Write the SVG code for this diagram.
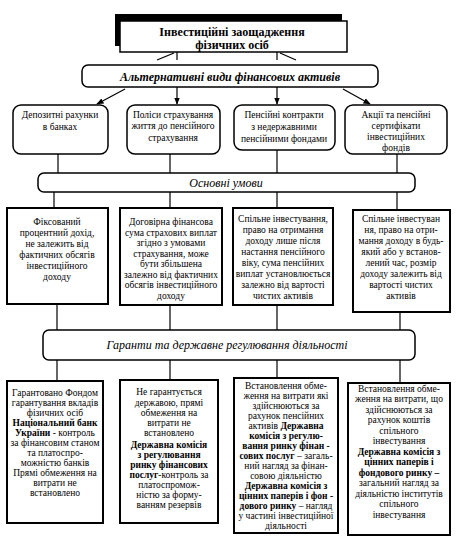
<svg xmlns="http://www.w3.org/2000/svg" width="465" height="545" viewBox="0 0 465 545">
<style>
.t{font-family:"Liberation Serif","DejaVu Serif",serif;font-size:9.5px;fill:#000;text-anchor:middle}
.b{font-weight:bold}
.hdr{font-family:"Liberation Serif","DejaVu Serif",serif;font-size:12px;font-weight:bold;text-anchor:middle}
.bar{font-family:"Liberation Serif","DejaVu Serif",serif;font-size:12px;font-style:italic;text-anchor:middle}
.box{fill:#fff;stroke:#000;stroke-width:1.5}
.box2{fill:#fff;stroke:#000;stroke-width:2}
.ln{stroke:#000;stroke-width:1.2;fill:none}
</style>
<defs>
<marker id="ar" viewBox="0 0 10 10" refX="9" refY="5" markerWidth="6" markerHeight="6" orient="auto">
<path d="M0,1 L10,5 L0,9 Z" fill="#000"/>
</marker>
</defs>
<rect width="465" height="545" fill="#fff"/>
<g id="connectors">
<line class="ln" x1="177" y1="52" x2="177" y2="60"/>
<line class="ln" x1="157" y1="60" x2="174" y2="53"/>
<line class="ln" x1="277" y1="52" x2="277" y2="60"/>
<line class="ln" x1="280" y1="53" x2="296" y2="60"/>
<line class="ln" x1="125" y1="89" x2="97" y2="104" marker-end="url(#ar)"/>
<line class="ln" x1="177" y1="87" x2="177" y2="104" marker-end="url(#ar)"/>
<line class="ln" x1="277" y1="87" x2="277" y2="104" marker-end="url(#ar)"/>
<line class="ln" x1="343" y1="89" x2="370" y2="104" marker-end="url(#ar)"/>
<line class="ln" x1="58" y1="154" x2="58" y2="173"/>
<line class="ln" x1="170" y1="154" x2="170" y2="173"/>
<line class="ln" x1="277" y1="150" x2="277" y2="173"/>
<line class="ln" x1="397" y1="154" x2="397" y2="173"/>
<line class="ln" x1="54" y1="192" x2="54" y2="208"/>
<line class="ln" x1="170" y1="192" x2="170" y2="208"/>
<line class="ln" x1="277" y1="192" x2="277" y2="208"/>
<line class="ln" x1="397" y1="192" x2="397" y2="210"/>
<line class="ln" x1="57" y1="304" x2="57" y2="330"/>
<line class="ln" x1="170" y1="305" x2="170" y2="330"/>
<line class="ln" x1="277" y1="305" x2="277" y2="330"/>
<line class="ln" x1="400" y1="312" x2="400" y2="334"/>
<line class="ln" x1="57" y1="360" x2="57" y2="381"/>
<line class="ln" x1="170" y1="360" x2="170" y2="380"/>
<line class="ln" x1="277" y1="360" x2="277" y2="378"/>
<line class="ln" x1="400" y1="360" x2="400" y2="383"/>
</g>
<g id="title">
<rect x="115" y="14" width="227" height="32" fill="#000"/>
<rect x="120" y="21" width="227" height="31" fill="#fff" stroke="#000" stroke-width="1.5"/>
<text class="hdr" x="232" y="36">Інвестиційні заощадження</text>
<text class="hdr" x="232" y="49">фізичних осіб</text>
</g>
<g id="alt">
<rect class="box" x="82" y="65" width="296" height="22" rx="6"/>
<text class="bar" x="230" y="81" font-weight="bold" font-size="13">Альтернативні види фінансових активів</text>
</g>
<g id="a1">
<rect class="box" x="13" y="105" width="95" height="49" rx="8"/>
<text class="t" x="60" y="118">Депозитні рахунки</text>
<text class="t" x="60" y="130">в банках</text>
</g>
<g id="a2">
<rect class="box" x="127" y="105" width="93" height="49" rx="8"/>
<text class="t" x="173" y="118">Поліси страхування</text>
<text class="t" x="173" y="129">життя до пенсійного</text>
<text class="t" x="173" y="141">страхування</text>
</g>
<g id="a3">
<rect class="box" x="234" y="105" width="101" height="45" rx="8"/>
<text class="t" x="284" y="118">Пенсійні контракти</text>
<text class="t" x="284" y="130">з недержавними</text>
<text class="t" x="284" y="142">пенсійними фондами</text>
</g>
<g id="a4">
<rect class="box" x="345" y="105" width="102" height="49" rx="8"/>
<text class="t" x="396" y="118">Акції та пенсійні</text>
<text class="t" x="396" y="129">сертифікати</text>
<text class="t" x="396" y="140">інвестиційних</text>
<text class="t" x="396" y="151">фондів</text>
</g>
<g id="conditions">
<rect class="box" x="38" y="173" width="377" height="19" rx="6"/>
<text class="bar" x="226" y="187">Основні умови</text>
</g>
<g id="c1">
<rect class="box2" x="7" y="208" width="101" height="96"/>
<text class="t" x="57" y="225">Фіксований</text>
<text class="t" x="57" y="236">процентний дохід,</text>
<text class="t" x="57" y="247">не залежить від</text>
<text class="t" x="57" y="258">фактичних обсягів</text>
<text class="t" x="57" y="269">інвестиційного</text>
<text class="t" x="57" y="280">доходу</text>
</g>
<g id="c2">
<rect class="box2" x="120" y="208" width="102" height="97"/>
<text class="t" x="171" y="225">Договірна фінансова</text>
<text class="t" x="171" y="235.5">сума страхових виплат</text>
<text class="t" x="171" y="246">згідно з умовами</text>
<text class="t" x="171" y="256.5">страхування, може</text>
<text class="t" x="171" y="267">бути збільшена</text>
<text class="t" x="171" y="277.5">залежно від фактичних</text>
<text class="t" x="171" y="288">обсягів інвестиційного</text>
<text class="t" x="171" y="298.5">доходу</text>
</g>
<g id="c3">
<rect class="box2" x="233" y="208" width="100" height="97"/>
<text class="t" x="283" y="221.5">Спільне інвестування,</text>
<text class="t" x="283" y="232.5">право на отримання</text>
<text class="t" x="283" y="243.5">доходу лише після</text>
<text class="t" x="283" y="254.5">настання пенсійного</text>
<text class="t" x="283" y="265.5">віку, сума пенсійних</text>
<text class="t" x="283" y="276.5">виплат установлюється</text>
<text class="t" x="283" y="287.5">залежно від вартості</text>
<text class="t" x="283" y="298.5">чистих активів</text>
</g>
<g id="c4">
<rect class="box2" x="353" y="210" width="97" height="102"/>
<text class="t" x="401" y="222">Спільне інвестуван</text>
<text class="t" x="401" y="233">ня, право на отри-</text>
<text class="t" x="401" y="244">мання доходу в будь-</text>
<text class="t" x="401" y="255">який або у встанов-</text>
<text class="t" x="401" y="266">лений час, розмір</text>
<text class="t" x="401" y="277">доходу залежить від</text>
<text class="t" x="401" y="288">вартості чистих</text>
<text class="t" x="401" y="299">активів</text>
</g>
<g id="guarantees">
<rect class="box" x="43" y="330" width="372" height="30" rx="6"/>
<text class="bar" x="227" y="349">Гаранти та державне регулювання діяльності</text>
</g>
<g id="g1">
<rect class="box2" x="7" y="381" width="96" height="142"/>
<text class="t" x="55" y="396">Гарантовано Фондом</text>
<text class="t" x="55" y="406">гарантування вкладів</text>
<text class="t" x="55" y="416">фізичних осіб</text>
<text class="t b" x="55" y="426">Національний банк</text>
<text class="t" x="55" y="436"><tspan class="b">України</tspan> - контроль</text>
<text class="t" x="55" y="446">за фінансовим станом</text>
<text class="t" x="55" y="456">та платоспро-</text>
<text class="t" x="55" y="466">можністю банків</text>
<text class="t" x="55" y="476">Прямі обмеження на</text>
<text class="t" x="55" y="486">витрати не</text>
<text class="t" x="55" y="496">встановлено</text>
</g>
<g id="g2">
<rect class="box2" x="120" y="380" width="98" height="143"/>
<text class="t" x="169" y="395">Не гарантується</text>
<text class="t" x="169" y="406">державою, прямі</text>
<text class="t" x="169" y="416">обмеження на</text>
<text class="t" x="169" y="426">витрати не</text>
<text class="t" x="169" y="436">встановлено</text>
<text class="t b" x="169" y="448">Державна комісія</text>
<text class="t b" x="169" y="458">з регулювання</text>
<text class="t b" x="169" y="468">ринку фінансових</text>
<text class="t" x="169" y="478"><tspan class="b">послуг</tspan>-контроль за</text>
<text class="t" x="169" y="488">платоспромож-</text>
<text class="t" x="169" y="498">ністю за форму-</text>
<text class="t" x="169" y="508">ванням резервів</text>
</g>
<g id="g3">
<rect class="box2" x="234" y="378" width="104" height="155"/>
<text class="t" x="286" y="388.5">Встановлення обме-</text>
<text class="t" x="286" y="398.5">ження на витрати які</text>
<text class="t" x="286" y="408.5">здійснюються за</text>
<text class="t" x="286" y="418.5">рахунок пенсійних</text>
<text class="t" x="286" y="428.5">активів <tspan class="b">Державна</tspan></text>
<text class="t b" x="286" y="438.5">комісія з регулю-</text>
<text class="t b" x="286" y="448.5">вання ринку фінан -</text>
<text class="t" x="286" y="458.5"><tspan class="b">сових послуг</tspan> – загаль-</text>
<text class="t" x="286" y="468.5">ний нагляд за фінан-</text>
<text class="t" x="286" y="478.5">совою діяльністю</text>
<text class="t b" x="286" y="488.5">Державна комісія з</text>
<text class="t b" x="286" y="498.5">цінних паперів і фон -</text>
<text class="t" x="286" y="508.5"><tspan class="b">дового ринку</tspan> – нагляд</text>
<text class="t" x="286" y="518.5">у частині інвестиційної</text>
<text class="t" x="286" y="528.5">діяльності</text>
</g>
<g id="g4">
<rect class="box2" x="348" y="383" width="102" height="152"/>
<text class="t" x="399" y="391.5">Встановлення обме-</text>
<text class="t" x="399" y="402">ження на витрати, що</text>
<text class="t" x="399" y="412.5">здійснюються за</text>
<text class="t" x="399" y="423">рахунок коштів</text>
<text class="t" x="399" y="433.5">спільного</text>
<text class="t" x="399" y="444">інвестування</text>
<text class="t b" x="399" y="454.5">Державна комісія з</text>
<text class="t b" x="399" y="465">цінних паперів і</text>
<text class="t b" x="399" y="475.5">фондового ринку –</text>
<text class="t" x="399" y="486">загальний нагляд за</text>
<text class="t" x="399" y="496.5">діяльністю інститутів</text>
<text class="t" x="399" y="507">спільного</text>
<text class="t" x="399" y="517.5">інвестування</text>
</g>
</svg>
